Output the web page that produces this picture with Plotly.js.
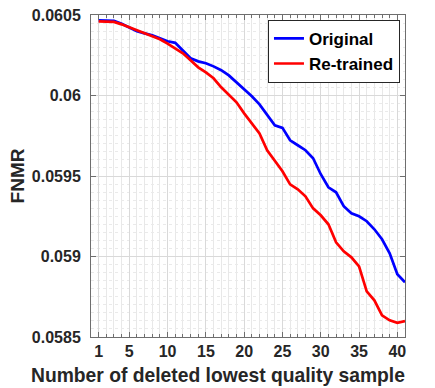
<!DOCTYPE html>
<html>
<head>
<meta charset="utf-8">
<script src="https://cdn.plot.ly/plotly-3.0.1.min.js"></script>
<style>html,body{margin:0;padding:0;background:#fff;}#chart{width:435px;height:388px;}</style>
</head>
<body>
<div id="chart"></div>
<script>
const xDeleted = [1,2,3,4,5,6,7,8,9,10,11,12,13,14,15,16,17,18,19,20,21,22,23,24,25,26,27,28,29,30,31,32,33,34,35,36,37,38,39,40,41];
const original = [0.060467,0.060467,0.060464,0.060445,0.060424,0.060399,0.060386,0.060374,0.060355,0.060337,
  0.060327,0.060281,0.060231,0.060212,0.060200,0.060181,0.060157,0.060125,0.060082,0.060039,
  0.059995,0.059945,0.059883,0.059815,0.059799,0.059722,0.059691,0.059660,0.059610,0.059511,
  0.059430,0.059399,0.059312,0.059268,0.059250,0.059219,0.059169,0.059107,0.059020,0.058890,0.058840];
const retrained = [0.060461,0.060461,0.060457,0.060442,0.060424,0.060405,0.060386,0.060368,0.060349,0.060322,
  0.060293,0.060262,0.060219,0.060175,0.060144,0.060107,0.060051,0.060007,0.059958,0.059889,
  0.059827,0.059765,0.059660,0.059591,0.059529,0.059448,0.059417,0.059374,0.059299,0.059256,
  0.059200,0.059088,0.059032,0.058995,0.058939,0.058784,0.058728,0.058635,0.058604,0.058588,0.058599];
const xTickVals = [1,5,10,15,20,25,30,35,40];
const yTickVals = [0.0585,0.059,0.0595,0.06,0.0605];
const yTickText = ['0.0585','0.059','0.0595','0.06','0.0605'];
const seriesNames = ['Original','Re-trained'];
const xTitle = 'Number of deleted lowest quality sample';
const yTitle = 'FNMR';

const fontFam = 'Liberation Sans, Arial, Helvetica, sans-serif';
const axisCol = '#6e6e6e';
const traces = [
  {x:xDeleted, y:original, name:seriesNames[0], mode:'lines', line:{color:'#0000ff', width:2.7}},
  {x:xDeleted, y:retrained, name:seriesNames[1], mode:'lines', line:{color:'#ff0000', width:2.7}}
];
const layout = {
  width:435, height:388,
  margin:{l:91, r:30, t:15, b:51, pad:0},
  paper_bgcolor:'#fff', plot_bgcolor:'#fff',
  showlegend:true,
  legend:{x:0.984, y:0.985, xanchor:'right', yanchor:'top', bgcolor:'#fff', bordercolor:'#262626', borderwidth:1,
    font:{family:fontFam, size:17, color:'#000', weight:'bold'}, itemwidth:30, tracegroupgap:0},
  xaxis:{range:[0,41], tickmode:'array', tickvals:xTickVals, ticks:'inside', ticklen:5, tickcolor:axisCol,
    showline:true, linecolor:axisCol, linewidth:1, mirror:'allticks', zeroline:false,
    showgrid:true, gridcolor:'#d9d9d9', gridwidth:1,
    minor:{tickmode:'linear', tick0:0, dtick:1, ticks:'inside', ticklen:3, tickcolor:axisCol, showgrid:true, gridcolor:'#e8e8e8', gridwidth:1},
    tickfont:{family:fontFam, size:16, color:'#262626', weight:'bold'},
    automargin:false},
  yaxis:{range:[0.0585,0.0605], tickmode:'array', tickvals:yTickVals, ticktext:yTickText, ticks:'inside', ticklen:5, tickcolor:axisCol,
    showline:true, linecolor:axisCol, linewidth:1, mirror:'ticks', zeroline:false,
    showgrid:true, gridcolor:'#d9d9d9', gridwidth:1,
    minor:{tickmode:'linear', tick0:0.0585, dtick:0.00005, ticks:'', showgrid:true, gridcolor:'#eaeaea', gridwidth:1, griddash:'dot'},
    tickfont:{family:fontFam, size:16, color:'#262626', weight:'bold'},
    ticklabelstandoff:6,
    title:{text:yTitle, font:{family:fontFam, size:19, color:'#262626', weight:'bold'}, standoff:2},
    automargin:false},
  annotations:[
    {text:xTitle, xref:'paper', yref:'paper', x:0.403, y:-0.121, xanchor:'center', yanchor:'middle', showarrow:false,
     font:{family:fontFam, size:19.3, color:'#262626', weight:'bold'}}
  ]
};
Plotly.newPlot('chart', traces, layout, {displayModeBar:false, staticPlot:true});
</script>
</body>
</html>
